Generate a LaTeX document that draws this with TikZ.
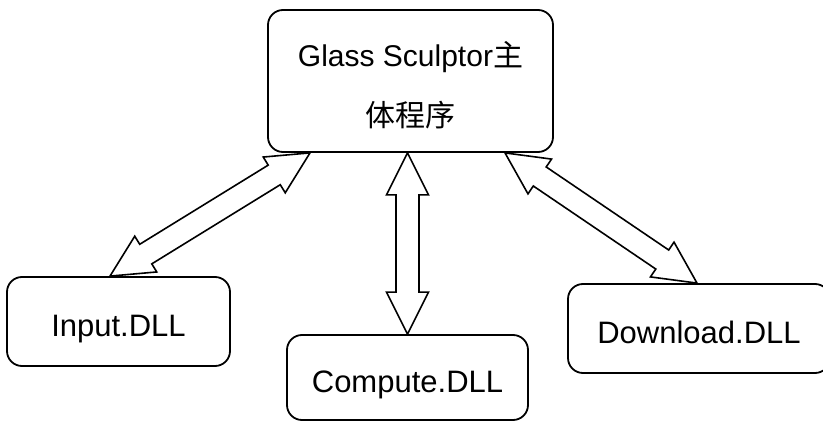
\documentclass[tikz,border=0pt]{standalone}
\usepackage{fontspec}
\setmainfont{Liberation Sans}
\newfontfamily\cjk{Noto Sans CJK SC}
\usetikzlibrary{calc}

% outline of a two-headed block arrow between two named points
\newcommand{\twowayarrow}[2]{%
  \coordinate (ha) at ($(#1)!42pt!(#2)$);
  \coordinate (hb) at ($(#2)!42pt!(#1)$);
  \draw[blockarrow] (#1)
    -- ($(ha)!21pt!90:(#2)$) -- ($(ha)!11.5pt!90:(#2)$)
    -- ($(hb)!11.5pt!-90:(#1)$) -- ($(hb)!21pt!-90:(#1)$)
    -- (#2)
    -- ($(hb)!21pt!90:(#1)$) -- ($(hb)!11.5pt!90:(#1)$)
    -- ($(ha)!11.5pt!-90:(#2)$) -- ($(ha)!21pt!-90:(#2)$)
    -- cycle;}

\begin{document}
\begin{tikzpicture}[x=1pt, y=-1pt,
  module/.style={draw, line width=1.8pt, rounded corners=15pt,
    font=\fontsize{31}{36}\selectfont, text height=31pt, text depth=0pt,
    inner sep=0pt},
  blockarrow/.style={draw, fill=white, line width=1.6pt, line join=miter}]
  \useasboundingbox[fill=white] (0,0) rectangle (823,422);

  % main program
  \node[module, minimum width=285pt, minimum height=142pt, align=center,
        font=\fontsize{30}{60}\selectfont, text height=92pt, text depth=0pt]
    (main) at (410.5,81) {Glass Sculptor{\cjk 主}\\{\cjk 体程序}};

  % library modules
  \node[module, minimum width=223pt, minimum height=89pt]
    (input) at (118.5,321.5) {Input.DLL};
  \node[module, minimum width=241pt, minimum height=85pt]
    (compute) at (407.5,377.5) {Compute.DLL};
  \node[module, minimum width=262pt, minimum height=89pt]
    (download) at (699,328.5) {Download.DLL};

  % arrow end points on the box edges
  \coordinate (mL) at (main.south -| 310,0);
  \coordinate (mC) at (main.south -| 407.5,0);
  \coordinate (mR) at (main.south -| 505,0);
  \coordinate (iT) at (input.north -| 110,0);
  \coordinate (cT) at (compute.north);
  \coordinate (dT) at (download.north -| 697,0);

  \twowayarrow{mL}{iT}
  \twowayarrow{mC}{cT}
  \twowayarrow{mR}{dT}
\end{tikzpicture}
\end{document}
